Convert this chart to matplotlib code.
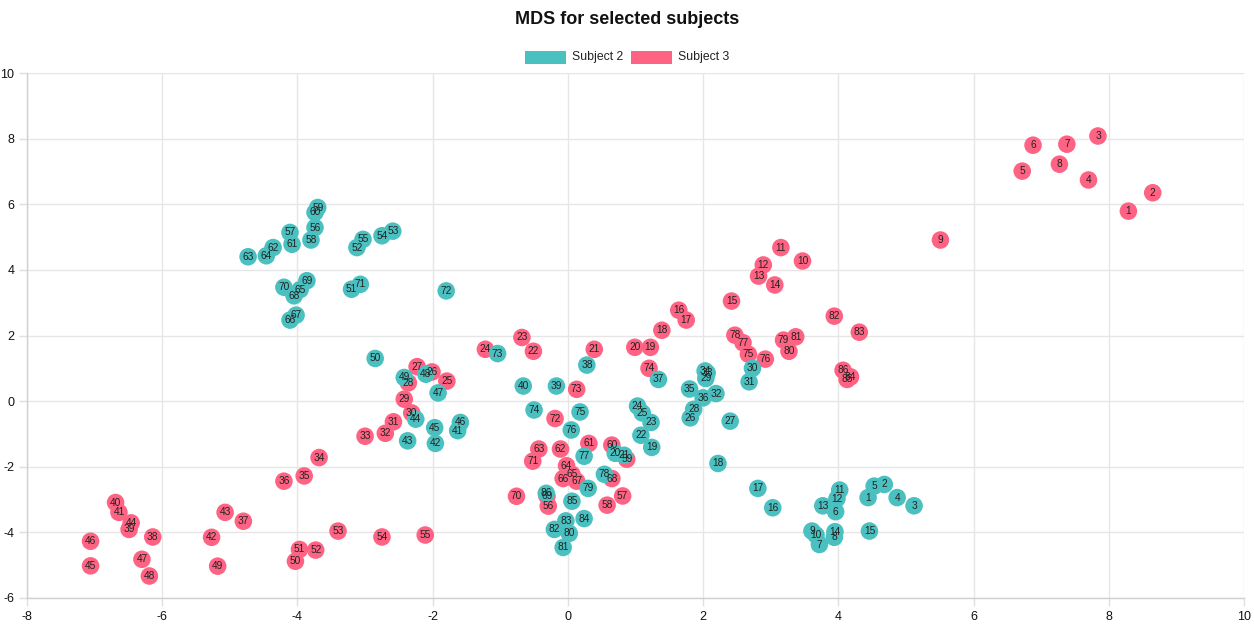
import matplotlib
matplotlib.use("Agg")
import matplotlib.pyplot as plt
from matplotlib.patches import Rectangle

# ---- data ----
s2_x = [4.44, 4.68, 5.12, 4.87, 4.53, 3.96, 3.72, 3.94, 3.61, 3.67,
        4.02, 3.98, 3.77, 3.95, 4.46, 3.03, 2.81, 2.22, 1.24, 0.70,
        0.83, 1.08, 1.23, 1.03, 1.10, 1.81, 2.40, 1.86, 2.04, 2.73,
        2.68, 2.19, 2.06, 2.03, 1.80, 2.00, 1.34, 0.28, -0.17, -0.66,
        -1.63, -1.96, -2.37, -2.25, -1.97, -1.59, -1.92, -2.10, -2.42, -2.85,
        -3.20, -3.12, -2.59, -2.75, -3.03, -3.74, -4.11, -3.80, -3.70, -3.74,
        -4.08, -4.36, -4.73, -4.46, -3.96, -4.11, -4.02, -4.05, -3.86, -4.20,
        -3.07, -1.80, -1.04, -0.50, 0.18, 0.05, 0.24, 0.54, 0.30, 0.02,
        -0.07, -0.20, -0.03, 0.24, 0.06, -0.32]
s2_y = [-2.94, -2.54, -3.19, -2.94, -2.59, -3.37, -4.37, -4.15, -3.96, -4.08,
        -2.71, -2.97, -3.19, -3.98, -3.96, -3.25, -2.66, -1.90, -1.41, -1.59,
        -1.65, -1.04, -0.65, -0.15, -0.36, -0.51, -0.61, -0.25, 0.69, 1.00,
        0.59, 0.23, 0.86, 0.92, 0.37, 0.10, 0.66, 1.10, 0.46, 0.46,
        -0.90, -1.29, -1.21, -0.55, -0.81, -0.65, 0.25, 0.82, 0.72, 1.30,
        3.41, 4.68, 5.18, 5.04, 4.93, 5.29, 5.14, 4.91, 5.90, 5.75,
        4.78, 4.68, 4.40, 4.43, 3.40, 2.47, 2.62, 3.21, 3.67, 3.47,
        3.56, 3.36, 1.45, -0.27, -0.33, -0.88, -1.68, -2.23, -2.66, -4.03,
        -4.46, -3.91, -3.65, -3.58, -3.05, -2.81]
s2_labels = [str(i) for i in range(1, 87)]

s3_x = [8.29, 8.65, 7.84, 7.70, 6.72, 6.88, 7.38, 7.27, 5.51, 3.47,
        3.15, 2.89, 2.82, 3.06, 2.42, 1.64, 1.75, 1.39, 1.22, 0.99,
        0.39, -0.51, -0.68, -1.22, -1.79, -2.01, -2.23, -2.36, -2.42, -2.31,
        -2.58, -2.70, -3.00, -3.68, -3.90, -4.20, -4.80, -6.14, -6.49, -6.69,
        -6.64, -5.27, -5.07, -6.46, -7.06, -7.06, -6.30, -6.19, -5.18, -4.03,
        -3.97, -3.73, -3.40, -2.75, -2.11, -0.29, 0.81, 0.58, 0.87, 0.65,
        0.31, -0.11, -0.43, -0.02, 0.06, -0.07, 0.13, 0.65, -0.31, -0.76,
        -0.52, -0.19, 0.13, 1.20, 2.67, 2.92, 2.59, 2.47, 3.19, 3.27,
        3.37, 3.94, 4.31, 4.18, 4.13, 4.07]
s3_y = [5.79, 6.35, 8.08, 6.74, 7.01, 7.80, 7.83, 7.22, 4.91, 4.27,
        4.68, 4.15, 3.81, 3.54, 3.05, 2.77, 2.47, 2.16, 1.64, 1.64,
        1.58, 1.52, 1.94, 1.58, 0.61, 0.89, 1.05, 0.56, 0.06, -0.36,
        -0.63, -0.98, -1.07, -1.72, -2.28, -2.44, -3.66, -4.14, -3.91, -3.09,
        -3.39, -4.15, -3.39, -3.71, -5.02, -4.27, -4.82, -5.33, -5.03, -4.88,
        -4.52, -4.54, -3.96, -4.14, -4.08, -3.20, -2.89, -3.17, -1.77, -1.34,
        -1.29, -1.46, -1.46, -1.97, -2.23, -2.36, -2.44, -2.36, -2.89, -2.90,
        -1.83, -0.53, 0.36, 1.00, 1.43, 1.28, 1.78, 2.01, 1.86, 1.52,
        1.96, 2.59, 2.10, 0.74, 0.66, 0.94]
s3_labels = [str(i) for i in range(1, 87)]

series_names = ["Subject 2", "Subject 3"]
x_ticks = [-8, -6, -4, -2, 0, 2, 4, 6, 8, 10]
y_ticks = [-6, -4, -2, 0, 2, 4, 6, 8, 10]
title = "MDS for selected subjects"

# ---- style ----
TEAL = "#4BC0C0"
PINK = "#FF6384"
plt.rcParams["font.family"] = ["Liberation Sans", "DejaVu Sans"]

W, H = 1254, 627
fig = plt.figure(figsize=(W / 100, H / 100), dpi=100)
ax = fig.add_axes([27 / W, 29 / H, 1217 / W, 525 / H])

ax.set_xlim(-8, 10)
ax.set_ylim(-6, 10)
ax.set_xticks(x_ticks)
ax.set_yticks(y_ticks)
ax.set_xticklabels([str(v) for v in x_ticks])
ax.set_yticklabels([str(v) for v in y_ticks])
ax.grid(True, color="#e6e6e6", linewidth=1.0, zorder=0)
ax.set_axisbelow(True)
for side in ["top", "right"]:
    ax.spines[side].set_visible(False)
for side in ["left", "bottom"]:
    ax.spines[side].set_color("#d0d0d0")
    ax.spines[side].set_linewidth(1.0)
ax.tick_params(axis="both", length=6, width=1.0, color="#e0e0e0",
               labelsize=9, labelcolor="#111111", pad=3)
ax.tick_params(axis="y", pad=3)

ms = 160
ax.scatter(s3_x, s3_y, s=ms, color=PINK, edgecolors="none", zorder=3, clip_on=False)
ax.scatter(s2_x, s2_y, s=ms, color=TEAL, edgecolors="none", zorder=4, clip_on=False)

for xs, ys, labs in [(s3_x, s3_y, s3_labels), (s2_x, s2_y, s2_labels)]:
    for x, y, t in zip(xs, ys, labs):
        ax.text(x, y, t, ha="center", va="center", fontsize=7.3,
                color="#222222", zorder=6)

# title
fig.text(627 / W, 1 - 20 / H, title, ha="center", va="center",
         fontsize=13, fontweight="bold", color="#111111")

# legend (manual, Chart.js style)
leg_items = [(525, 572, TEAL, series_names[0]), (631, 678, PINK, series_names[1])]
for bx, tx, col, name in leg_items:
    fig.add_artist(Rectangle((bx / W, 1 - 63.5 / H), 41 / W, 12.5 / H,
                             transform=fig.transFigure, facecolor=col,
                             edgecolor="none"))
    fig.text(tx / W, 1 - 57 / H, name, ha="left", va="center",
             fontsize=8.8, color="#222222")

fig.savefig("out.png", dpi=100, facecolor="white")
